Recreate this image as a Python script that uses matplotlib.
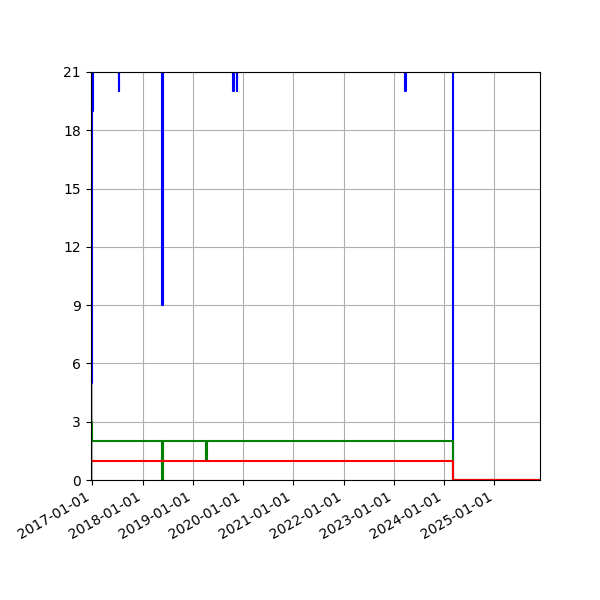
import numpy as np
import pandas as pd
import matplotlib
matplotlib.use('Agg')
import matplotlib.pyplot as plt
import matplotlib.dates as mdates

# change points of each series (value holds until the next date)
blue_dates = ["2016-12-19", "2016-12-29", "2017-01-03", "2017-07-12", "2017-07-15",
              "2018-05-24", "2018-05-31", "2019-10-23", "2019-10-26", "2019-11-17",
              "2019-11-20", "2023-03-25", "2023-03-28", "2024-03-10", "2025-11-29"]
blue_vals = [5, 19, 30, 20, 30, 9, 30, 20, 30, 20, 30, 20, 30, 0, 0]

green_dates = ["2016-12-19", "2016-12-29", "2018-05-25", "2018-05-30", "2019-04-07",
               "2019-04-12", "2024-03-10", "2025-11-29"]
green_vals = [3, 2, 0, 2, 1, 2, 0, 0]

red_dates = ["2016-12-19", "2024-03-10", "2025-11-29"]
red_vals = [1, 0, 0]

yticks = [0, 3, 6, 9, 12, 15, 18, 21]

fig = plt.figure(figsize=(6, 6), dpi=100)
ax = fig.add_axes([0.151, 0.2, 0.749, 0.68])

for dates, vals, color in [(blue_dates, blue_vals, 'blue'),
                           (green_dates, green_vals, 'green'),
                           (red_dates, red_vals, 'red')]:
    ax.plot(pd.to_datetime(dates), vals, color=color, drawstyle='steps-post')

ax.set_xlim(pd.Timestamp(blue_dates[0]), pd.Timestamp(blue_dates[-1]))
ax.set_ylim(0, 21)
ax.set_yticks(yticks)
ax.xaxis.set_major_locator(mdates.YearLocator())
ax.xaxis.set_major_formatter(mdates.DateFormatter('%Y-%m-%d'))
ax.grid(True)
ax.set_axisbelow(True)
for lab in ax.get_xticklabels():
    lab.set_rotation(30)
    lab.set_horizontalalignment('right')

plt.savefig('out.png')
plt.close('all')
